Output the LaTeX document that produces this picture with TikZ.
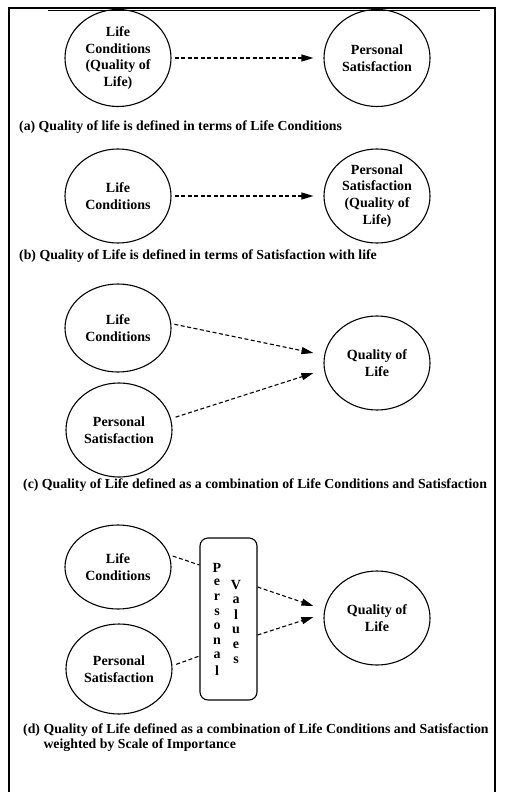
\documentclass[tikz,border=0pt]{standalone}
\usepackage{fontspec}
\setmainfont{Liberation Serif}
\usetikzlibrary{shapes.geometric,arrows.meta}

\begin{document}
\begin{tikzpicture}[
  x=1pt, y=-1pt,
  blob/.style={ellipse, draw, line width=1.1pt, minimum width=106pt, minimum height=94pt, inner sep=0pt, align=center, font=\bfseries\fontsize{14}{16.8}\selectfont},
  caption/.style={anchor=west, inner sep=0pt, align=left, font=\bfseries\fontsize{13.8}{15}\selectfont},
  letter/.style={inner sep=0pt, font=\bfseries\fontsize{14}{15}\selectfont},
  link/.style={line width=1.1pt, dash pattern=on 4pt off 2.5pt},
  arrow/.style={link, -{Triangle[length=12pt,width=7pt]}}
]
  \useasboundingbox (0,0) rectangle (504,792);

  % Frame
  \draw[line width=2.4pt] (9,792) -- (9,8) -- (495,8) -- (495,792);
  \draw[line width=0.8pt] (48,10.5) -- (480,10.5);

  % (a)
  \node[blob, minimum height=97pt] (lca) at (118,58) {Life\\Conditions\\(Quality of\\Life)};
  \node[blob, minimum height=97pt] (psa) at (377,58) {Personal\\Satisfaction};
  \node[caption] (capa) at (19,127) {(a) Quality of life is defined in terms of Life Conditions};
  \draw[arrow] ([xshift=3pt]lca.east) -- ([xshift=-10pt]psa.west);

  % (b)
  \node[blob] (lcb) at (118,196) {Life\\Conditions};
  \node[blob] (psb) at (377,196) {Personal\\Satisfaction\\(Quality of\\Life)};
  \node[caption] (capb) at (19,256) {(b) Quality of Life is defined in terms of Satisfaction with life};
  \draw[arrow] ([xshift=3pt]lcb.east) -- ([xshift=-10pt]psb.west);

  % (c)
  \node[blob, minimum height=88pt] (lcc) at (118,328) {Life\\Conditions};
  \node[blob] (psc) at (119,430) {Personal\\Satisfaction};
  \node[blob] (qolc) at (377,363) {Quality of\\Life};
  \node[caption] (capc) at (23,485) {(c) Quality of Life defined as a combination of Life Conditions and Satisfaction};
  \draw[arrow] ([xshift=3pt]lcc.4) -- ([xshift=-10pt,yshift=10pt]qolc.west);
  \draw[arrow] ([xshift=5pt]psc.14) -- ([xshift=-10pt,yshift=-10pt]qolc.west);

  % (d)
  \node[blob, minimum height=84pt] (lcd) at (118,567) {Life\\Conditions};
  \node[blob, minimum height=90pt] (psd) at (119,669) {Personal\\Satisfaction};
  \node[blob] (qold) at (377,618) {Quality of\\Life};
  \node[draw, line width=1.1pt, rounded corners=8pt, minimum width=57pt, minimum height=162pt] (values) at (228.5,619) {};
  \foreach \ch [count=\i] in {P,e,r,s,o,n,a,l}
    \node[letter] (pv\i) at (217,553.4+14.6*\i) {\ch};
  \foreach \ch [count=\i] in {V,a,l,u,e,s}
    \node[letter] (vv\i) at (236,570+15*\i) {\ch};
  \draw[link] ([xshift=3pt]lcd.12) -- ([yshift=54pt]values.west);
  \draw[link] ([xshift=4pt]psd.5) -- ([yshift=-37pt]values.west);
  \draw[arrow] ([yshift=32pt]values.east) -- ([xshift=-10pt,yshift=12pt]qold.west);
  \draw[arrow] ([yshift=-16pt]values.east) -- ([xshift=-10pt,yshift=1pt]qold.west);
  \node[caption] (capd) at (23,737.5) {(d) Quality of Life defined as a combination of Life Conditions and Satisfaction\\\phantom{(d) }weighted by Scale of Importance};
\end{tikzpicture}
\end{document}
